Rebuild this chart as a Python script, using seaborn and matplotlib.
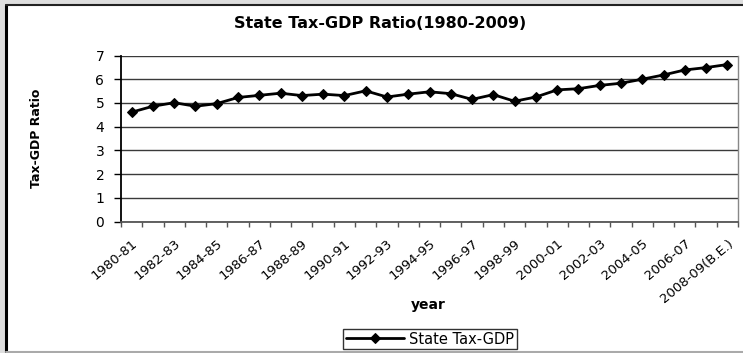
import numpy as np
import pandas as pd
import matplotlib
matplotlib.use("Agg")
import matplotlib.pyplot as plt
from matplotlib.patches import Rectangle
from matplotlib.lines import Line2D
import seaborn as sns

years = [f"{y}-{str(y + 1)[2:]}" for y in range(1980, 2008)] + ["2008-09(B.E.)"]
ratio = [4.61, 4.86, 5.01, 4.86, 4.97, 5.23, 5.32, 5.41, 5.31, 5.37,
         5.31, 5.51, 5.25, 5.37, 5.47, 5.39, 5.15, 5.35, 5.07, 5.25,
         5.55, 5.60, 5.74, 5.83, 6.00, 6.18, 6.39, 6.49, 6.62]
series_name = "State Tax-GDP"
title = "State Tax-GDP Ratio(1980-2009)"
y_label = "Tax-GDP Ratio"
x_label = "year"

sns.set_theme(style="white")
plt.rcParams['font.family'] = ['DejaVu Sans']
plt.rcParams.update({"text.color": "black", "axes.labelcolor": "black",
                     "xtick.color": "black", "ytick.color": "black"})

W, H = 743, 353
fig = plt.figure(figsize=(W / 100, H / 100), dpi=100, facecolor="#dedede")

# chart area background and frame
fig.patches.append(Rectangle((6 / W, 1 / H), 1, 1 - 6 / H, transform=fig.transFigure,
                             facecolor="white", edgecolor="none", zorder=-10))
fig.add_artist(Line2D([6 / W, 6 / W], [1 / H, 1 - 5 / H], transform=fig.transFigure,
                      color="black", lw=2.2))
fig.add_artist(Line2D([6 / W, 1], [1 - 5 / H, 1 - 5 / H], transform=fig.transFigure,
                      color="#222222", lw=1.5))
fig.add_artist(Line2D([6 / W, 1], [1.0 / H, 1.0 / H], transform=fig.transFigure,
                      color="#aaaaaa", lw=1.5))

ax = fig.add_axes([121 / W, 1 - 221.5 / H, (738 - 121) / W, (221.5 - 55.5) / H])
ax.set_facecolor("white")
ax.set_zorder(1)

df = pd.DataFrame({"idx": np.arange(len(years)), "ratio": ratio})
sns.lineplot(data=df, x="idx", y="ratio", ax=ax, color="black", lw=2,
             marker="D", markersize=5.5, markeredgecolor="black", label=series_name)

ax.set_xlim(-0.5, len(years) - 0.5)
ax.set_ylim(0, 7)
ax.set_yticks(range(0, 8))
ax.yaxis.grid(True, color="#3a3a3a", lw=1)
ax.set_axisbelow(True)

ax.set_xticks(np.arange(0, len(years), 2))
ax.set_xticklabels(years[::2], rotation=40, ha="right", rotation_mode="anchor", fontsize=9.5)
ax.set_xticks(np.arange(-0.5, len(years)), minor=True)
ax.tick_params(axis="x", which="major", length=0, pad=11)
ax.tick_params(axis="x", which="minor", length=3.5, width=1, color="#555555", bottom=True, direction="out")
ax.tick_params(axis="y", length=5, width=1, color="black", left=True, direction="out", labelsize=10, pad=7)

ax.spines["left"].set_color("black")
ax.spines["left"].set_linewidth(1.3)
ax.spines["bottom"].set_color("#555555")
ax.spines["bottom"].set_linewidth(1.3)
ax.spines["top"].set_visible(False)
ax.spines["right"].set_color("#888888")
ax.spines["right"].set_linewidth(1)

ax.set_xlabel(x_label, fontsize=10, fontweight="bold")
ax.set_ylabel(y_label, fontsize=9, fontweight="bold")
ax.xaxis.set_label_coords((428 - 121) / (738 - 121), -(305 - 221.5) / (221.5 - 55.5))
ax.yaxis.set_label_coords(-(121 - 36) / (738 - 121), 0.5)
ax.xaxis.label.set_va("center")
ax.yaxis.label.set_va("center")

fig.text(380 / W, 1 - 24 / H, title, ha="center", va="center", fontsize=11.5, fontweight="bold")

ax.legend(loc="center", bbox_to_anchor=(430 / W, 1 - 339 / H), bbox_transform=fig.transFigure,
          frameon=True, fancybox=False, edgecolor="black", fontsize=10.5, handlelength=4,
          borderpad=0.2, handletextpad=0.3, borderaxespad=0)

fig.savefig("out.png", dpi=100, facecolor=fig.get_facecolor())
